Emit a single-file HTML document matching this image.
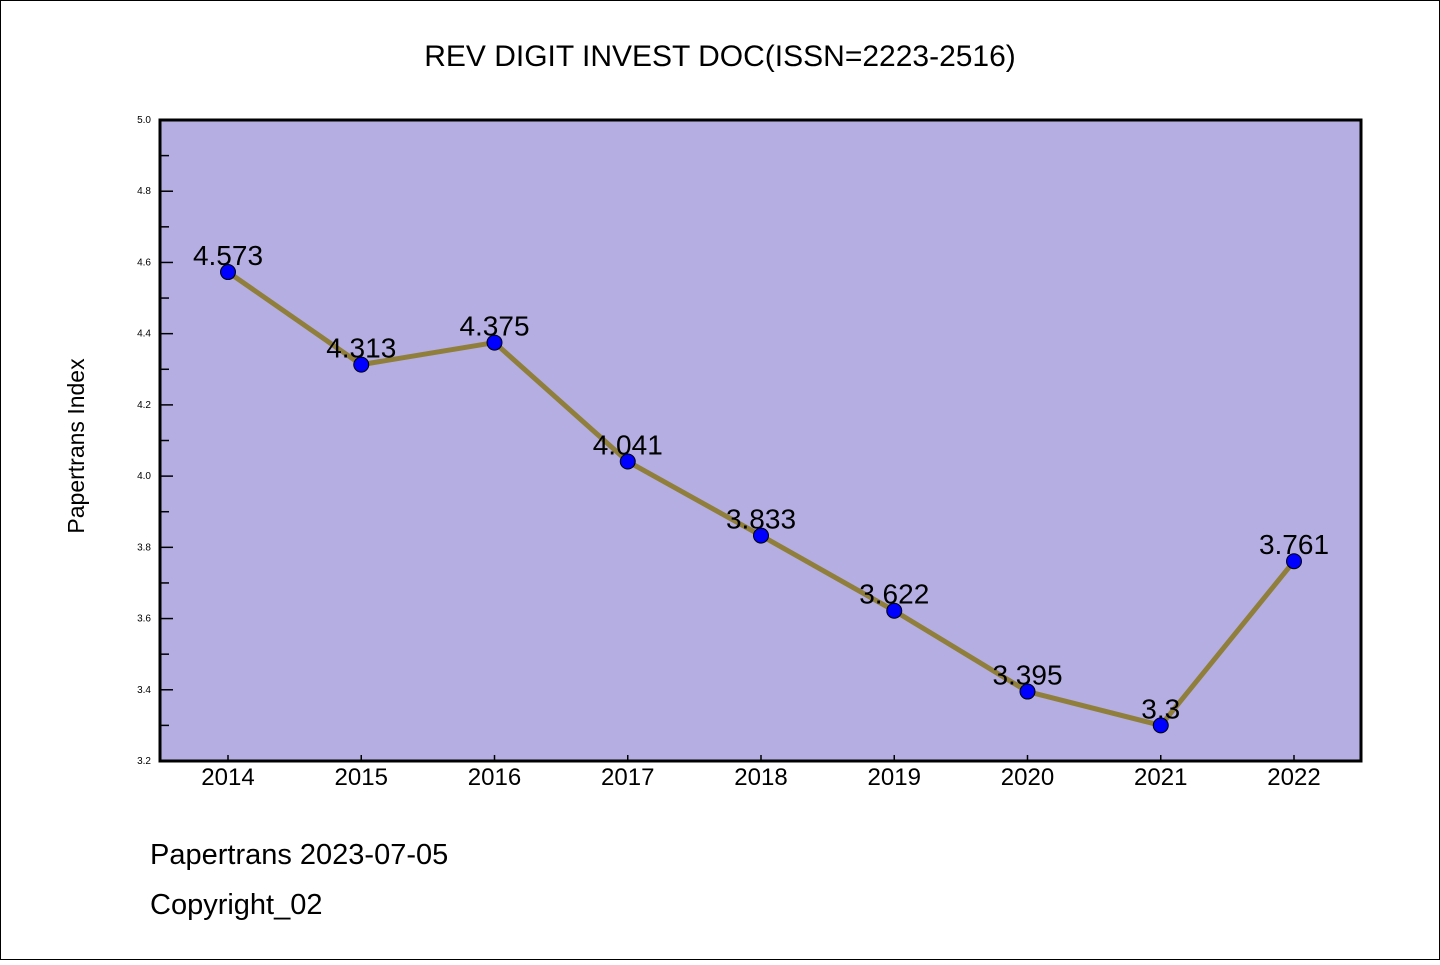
<!DOCTYPE html>
<html><head><meta charset="utf-8"><style>
body{margin:0;background:#fff}
svg text{font-family:"Liberation Sans","WenQuanYi Zen Hei",sans-serif}
</style></head><body>
<svg id="c" width="1440" height="960" xmlns="http://www.w3.org/2000/svg">
<rect x="0.5" y="0.5" width="1439" height="959" fill="#fff" stroke="#000"/>
<text x="720" y="66" text-anchor="middle" font-size="30" font-family="Liberation Mono">REV DIGIT INVEST DOC(ISSN=2223-2516)</text>
<rect x="160" y="120" width="1201" height="641" fill="#b5aee2"/>
<g id="axes"></g>
<g id="marks"></g>
<rect x="160" y="120" width="1201" height="641" fill="none" stroke="#000" stroke-width="3"/>
<text transform="translate(84,446) rotate(-90)" text-anchor="middle" font-size="23" font-family="Liberation Mono">Papertrans Index</text>
<text x="150" y="864" font-size="29" font-family="Liberation Mono">Papertrans 2023-07-05</text>
<text x="150" y="914" font-size="29" font-family="Liberation Mono">Copyright_02</text>
</svg>
<script>
const years=["2014","2015","2016","2017","2018","2019","2020","2021","2022"];
const values=[4.573,4.313,4.375,4.041,3.833,3.622,3.395,3.3,3.761];
const valueLabels=["4.573","4.313","4.375","4.041","3.833","3.622","3.395","3.3","3.761"];
const yTicks=["3.2","3.4","3.6","3.8","4.0","4.2","4.4","4.6","4.8","5.0"];
const NS="http://www.w3.org/2000/svg";
const x=i=>228+i*(1294-228)/(years.length-1);
const y=v=>761-(v-3.2)*(641/1.8);
function mk(t,a,p){const e=document.createElementNS(NS,t);for(const k in a)e.setAttribute(k,a[k]);p.appendChild(e);return e;}
const ax=document.getElementById('axes'),mg=document.getElementById('marks');
yTicks.forEach((t,i)=>{const v=parseFloat(t),yy=y(v);
 const l=mk('line',{x1:160,x2:173,y1:yy,y2:yy,stroke:'#000','stroke-width':1.5},ax);
 
 const tx=mk('text',{x:151,y:yy+3,'text-anchor':'end','font-size':10},ax);tx.textContent=t;
 
 if(i<yTicks.length-1){const ym=y(v+0.1);const m=mk('line',{x1:160,x2:169,y1:ym,y2:ym,stroke:'#000','stroke-width':1.5},ax);
 }
});
years.forEach((t,i)=>{const xx=x(i);
 const l=mk('line',{x1:xx,x2:xx,y1:761,y2:755,stroke:'#000','stroke-width':1.5},ax);
 
 const tx=mk('text',{x:xx,y:785,'text-anchor':'middle','font-size':24},ax);tx.textContent=t;
 
});
const pl=mk('polyline',{points:values.map((v,i)=>x(i)+','+y(v)).join(' '),fill:'none',stroke:'#8f7f3a','stroke-width':5,'stroke-linejoin':'round'},mg);

values.forEach((v,i)=>{
 const c=mk('circle',{cx:x(i),cy:y(v),r:7.5,fill:'#0000ff',stroke:'#000','stroke-width':1},mg);
 
 const tx=mk('text',{x:x(i),y:y(v)-7,'text-anchor':'middle','font-size':28,'font-family':'Liberation Mono'},mg);tx.textContent=valueLabels[i];
 
});
</script>
</body></html>
